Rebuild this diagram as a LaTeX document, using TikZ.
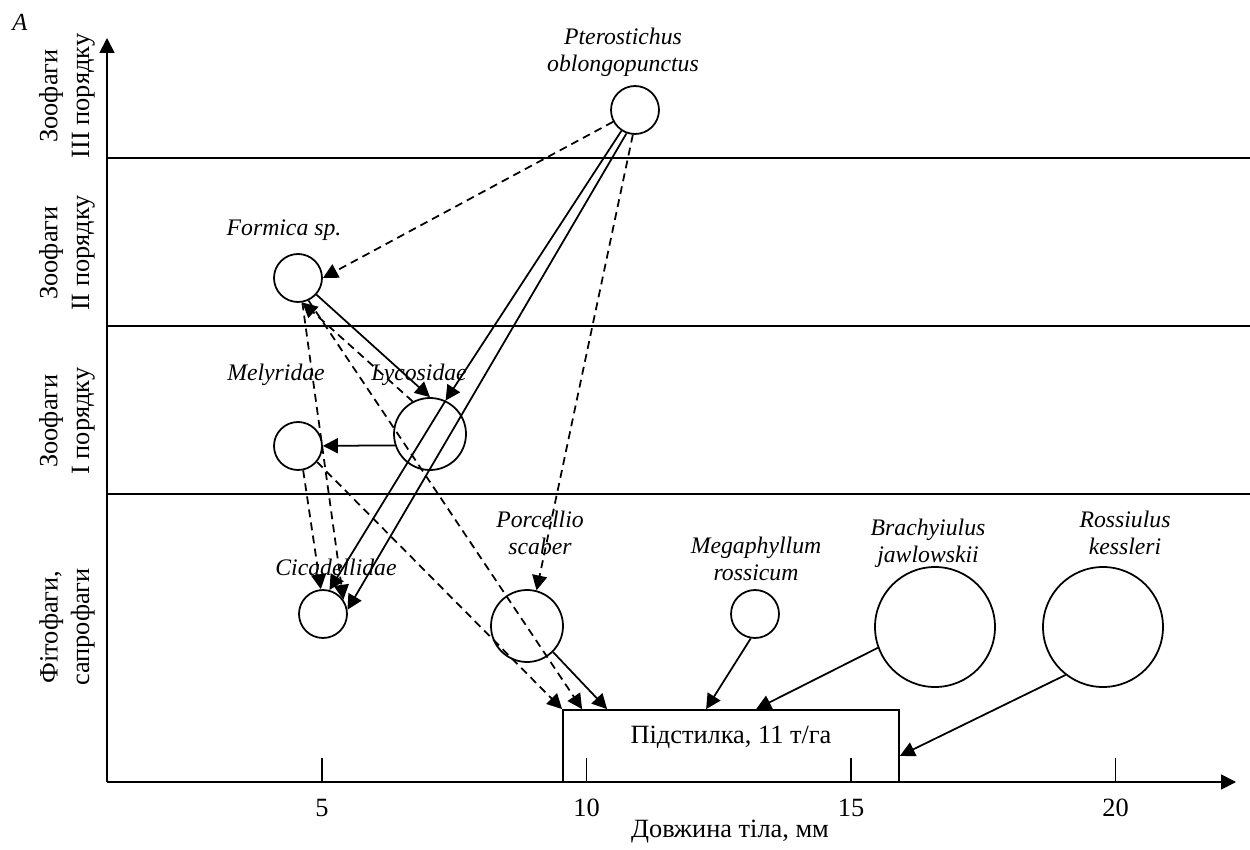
\documentclass[tikz,border=0pt]{standalone}
\usepackage{fontspec}
\setmainfont{Liberation Serif}
\usetikzlibrary{arrows.meta, calc}

\tikzset{
  sp/.style={circle, draw, inner sep=0pt, minimum size=0.96cm},
  lab/.style={font=\fontsize{13.5}{15.3}\selectfont\itshape, align=center, inner sep=0pt},
  txt/.style={font=\fontsize{15}{18}\selectfont, align=center, inner sep=0pt},
  arr/.style={-{Triangle[length=8.5pt,width=8.5pt]}},
  darr/.style={arr, dash pattern=on 4.5pt off 3pt},
}

\begin{document}
\begin{tikzpicture}[x=0.2mm, y=-0.2mm, line width=1pt]
  \useasboundingbox (0,0) rectangle (1250,850);

  % axes and trophic levels
  \draw[arr] (107,782) -- (107,38);
  \draw[arr] (107,782) -- (1236,782);
  \foreach \y in {158,326,494}
    \draw (107,\y) -- (1250,\y);
  \foreach \t in {5,10,15,20} {
    \draw ({57.5+52.9*\t},758) -- ({57.5+52.9*\t},782);
    \node[txt] (tick\t) at ({57.5+52.9*\t},808) {\t};
  }
  \node[txt] (xlab) at (730,832) {Довжина тіла, мм};
  \node[lab, font=\fontsize{14}{16}\selectfont\itshape] (panel) at (20,22) {A};

  \node[txt, rotate=90] (lvl3) at (67,96) {Зоофаги\\III порядку};
  \node[txt, rotate=90] (lvl2) at (67,253) {Зоофаги\\II порядку};
  \node[txt, rotate=90] (lvl1) at (67,421) {Зоофаги\\I порядку};
  \node[txt, rotate=90] (lvl0) at (67,627) {Фітофаги,\\сапрофаги};

  % species
  \node[sp] (ptero) at (635,110) {};
  \node[sp] (formi) at (298,278) {};
  \node[sp] (mely) at (298,446) {};
  \node[sp, minimum size=1.44cm] (lyco) at (430,434) {};
  \node[sp] (cica) at (323,614) {};
  \node[sp, minimum size=1.44cm] (porc) at (527,626) {};
  \node[sp] (mega) at (755,614) {};
  \node[sp, minimum size=2.4cm] (brach) at (935,627) {};
  \node[sp, minimum size=2.4cm] (ross) at (1103,627) {};

  \node[lab] (nptero) at (623,52) {Pterostichus\\oblongopunctus};
  \node[lab] (nformi) at (284,230) {Formica sp.};
  \node[lab] (nmely) at (276,375) {Melyridae};
  \node[lab] (nlyco) at (419,375) {Lycosidae};
  \node[lab] (ncica) at (336,567) {Cicadellidae};
  \node[lab] (nporc) at (540,533) {Porcellio\\scaber};
  \node[lab] (nmega) at (756,559) {Megaphyllum\\rossicum};
  \node[lab] (nbrach) at (928,543) {Brachyiulus\\jawlowskii};
  \node[lab] (nross) at (1125,533) {Rossiulus\\kessleri};

  % litter
  \node[draw, minimum width=6.72cm, minimum height=1.44cm, inner sep=0pt] (litter) at (731,746) {};
  \node[txt] (nlitter) at (731,737) {Підстилка, 11 т/га};

  % dashed links
  \draw[darr] (ptero) -- (formi.east);
  \draw[darr] (ptero.265) -- (porc.75);
  \draw[darr] (lyco.118) -- (formi.-80);
  \draw[darr] (formi.-65) -- ($(litter.north west)+(20,0)$);
  \draw[darr] (formi.-80) -- (cica.35);
  \draw[darr] (mely.-78) -- (cica.95);
  \draw[darr] (mely.-40) -- (litter.north west);

  % solid links
  \draw[arr] (ptero) -- (lyco.65);
  \draw[arr] (lyco.65) -- (cica.75);
  \draw[arr] (ptero.250) -- (cica.10);
  \draw[arr] (formi) -- (lyco.north);
  \draw[arr] (lyco.198) -- (mely);
  \draw[arr] (porc.-45) -- ($(litter.north west)+(45,0)$);
  \draw[arr] (mega.-100) -- ($(litter.north west)+(144,0)$);
  \draw[arr] (brach.200) -- ($(litter.north west)+(194,0)$);
  \draw[arr] (ross.232) -- ($(litter.south east)+(0,-27)$);
\end{tikzpicture}
\end{document}
